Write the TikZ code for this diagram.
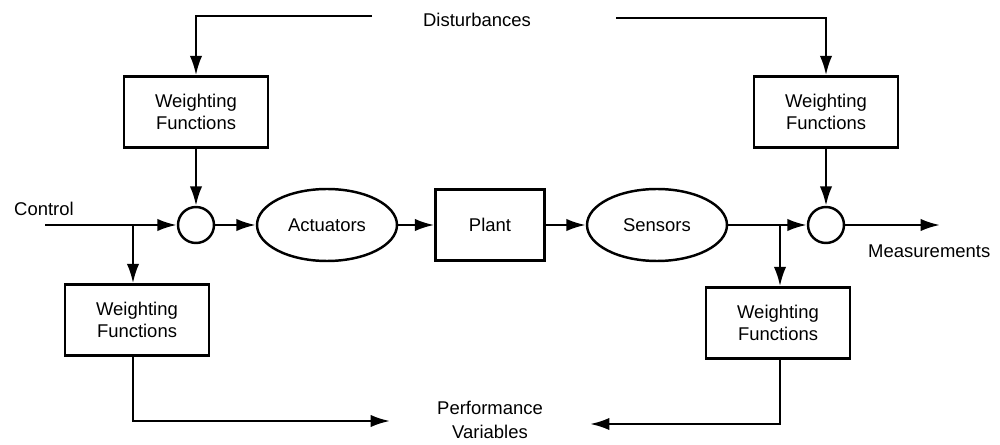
\documentclass[tikz,border=0pt]{standalone}
\usepackage{fontspec}
\setmainfont{Liberation Sans}
\usetikzlibrary{shapes.geometric,arrows.meta}
\begin{document}
\begin{tikzpicture}[x=0.02cm,y=-0.02cm,
  font=\fontsize{10.5}{12.5}\selectfont,
  line width=1.4pt,
  >={Latex[length=11pt,width=7pt]},
  wbox/.style={draw,minimum width=2.88cm,minimum height=1.42cm,align=center,inner sep=1pt},
  ell/.style={draw,ellipse,minimum width=2.8cm,minimum height=1.44cm,inner sep=0pt},
  sumc/.style={draw,circle,minimum size=0.72cm,inner sep=0pt},
  lbl/.style={align=center,inner sep=0pt}]
\useasboundingbox (0,0) rectangle (1000,445);
% nodes
\node[lbl] (dist) at (477,20) {Disturbances};
\node[wbox] (w1) at (196,112) {Weighting\\Functions};
\node[wbox] (w2) at (826,112) {Weighting\\Functions};
\node[sumc] (s1) at (196,225) {};
\node[ell] (act) at (327,225) {Actuators};
\node[draw,minimum width=2.18cm,minimum height=1.42cm] (plant) at (490,225) {Plant};
\node[ell] (sen) at (657,225) {Sensors};
\node[sumc] (s2) at (826,225) {};
\node[wbox] (w3) at (137,320) {Weighting\\Functions};
\node[wbox] (w4) at (778,323) {Weighting\\Functions};
\node[lbl,anchor=south west] (ctrl) at (13,217) {Control};
\node[lbl,anchor=north west] (meas) at (867,244) {Measurements};
\node[lbl,font=\fontsize{10.5}{13.5}\selectfont] (perf) at (490,420) {Performance\\Variables};
% coordinates
\coordinate (d1) at (372,16);
\coordinate (d2) at (616,18);
\coordinate (cin) at (45,225);
\coordinate (mout) at (940,225);
\coordinate (b1) at (133,225);
\coordinate (b2) at (780,225);
\coordinate (p1) at (390,421);
\coordinate (p2) at (590,424);
% connectors
\draw[->] (d1) -| (w1.north);
\draw[->] (d2) -| (w2.north);
\draw[->] (w1.south) -- (s1.north);
\draw[->] (w2.south) -- (s2.north);
\draw[->] (cin) -- (s1.west);
\draw[->] (s1.east) -- (act.west);
\draw[->] (act.east) -- (plant.west);
\draw[->] (plant.east) -- (sen.west);
\draw[->] (sen.east) -- (s2.west);
\draw[->] (s2.east) -- (mout);
\draw[->] (b1) -- (b1 |- w3.north);
\draw[->] (b2) -- (b2 |- w4.north);
\draw[->] (w3.south -| b1) |- (p1);
\draw[->] (w4.south -| b2) |- (p2);
\end{tikzpicture}
\end{document}
